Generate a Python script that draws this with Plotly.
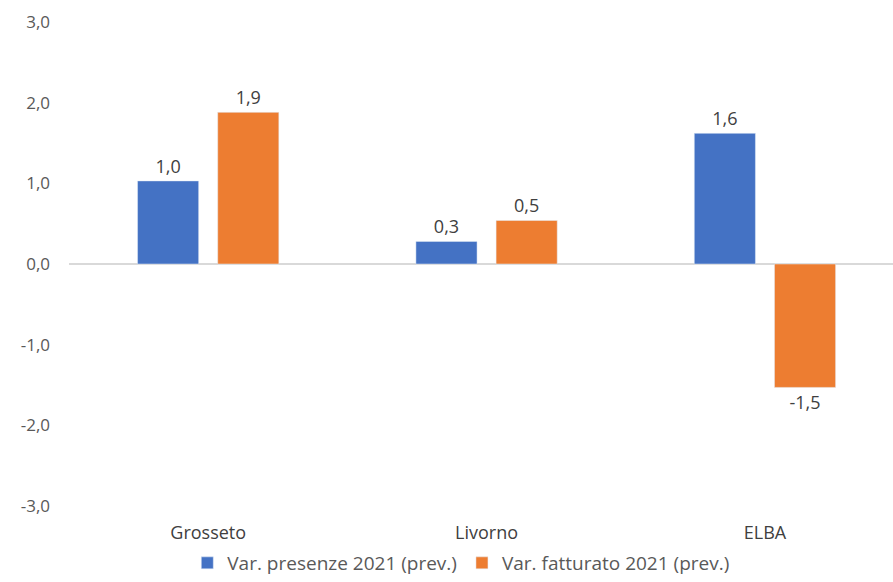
import plotly.graph_objects as go

categories = ["Grosseto", "Livorno", "ELBA"]
presenze = [1.03, 0.28, 1.62]
fatturato = [1.88, 0.54, -1.53]
series_names = ["Var. presenze 2021 (prev.)", "Var. fatturato 2021 (prev.)"]
colors = ["#4472C4", "#ED7D31"]
y_ticks = [-3, -2, -1, 0, 1, 2, 3]

font_family = "Open Sans, Liberation Sans, Arial, sans-serif"
grey = "#595959"

fig = go.Figure()
for name, vals, col in zip(series_names, [presenze, fatturato], colors):
    fig.add_trace(go.Bar(
        x=categories, y=vals, name=name, marker_color=col,
        text=[f"{v:.1f}".replace(".", ",") for v in vals],
        texttemplate="%{text}", textposition="outside",
        textfont=dict(size=18, color="#404040", family=font_family),
        cliponaxis=False,
    ))

fig.update_layout(
    width=893, height=582,
    margin=dict(l=69, r=0, t=22, b=76),
    plot_bgcolor="white", paper_bgcolor="white",
    barmode="group", bargap=0.424, bargroupgap=0.2375,
    font=dict(family=font_family, size=16, color=grey),
    xaxis=dict(range=[-0.5, 2.46], showgrid=False, showline=False, ticks="",
               tickfont=dict(size=18, color="#404040"), ticklabelstandoff=14),
    yaxis=dict(range=[-3, 3], tickvals=y_ticks,
               ticktext=[f"{v:.1f}".replace(".", ",") for v in y_ticks],
               showgrid=False,
               zeroline=True, zerolinecolor="#D9D9D9", zerolinewidth=1.5,
               showline=False, ticks="", ticklabelstandoff=18,
               tickfont=dict(size=17, color=grey)),
    legend=dict(orientation="h", xref="container", x=0.516, xanchor="center",
                yref="container", y=0.0, yanchor="bottom",
                font=dict(size=19, color=grey), traceorder="normal"),
    showlegend=True,
)

fig.write_html("out.html")
